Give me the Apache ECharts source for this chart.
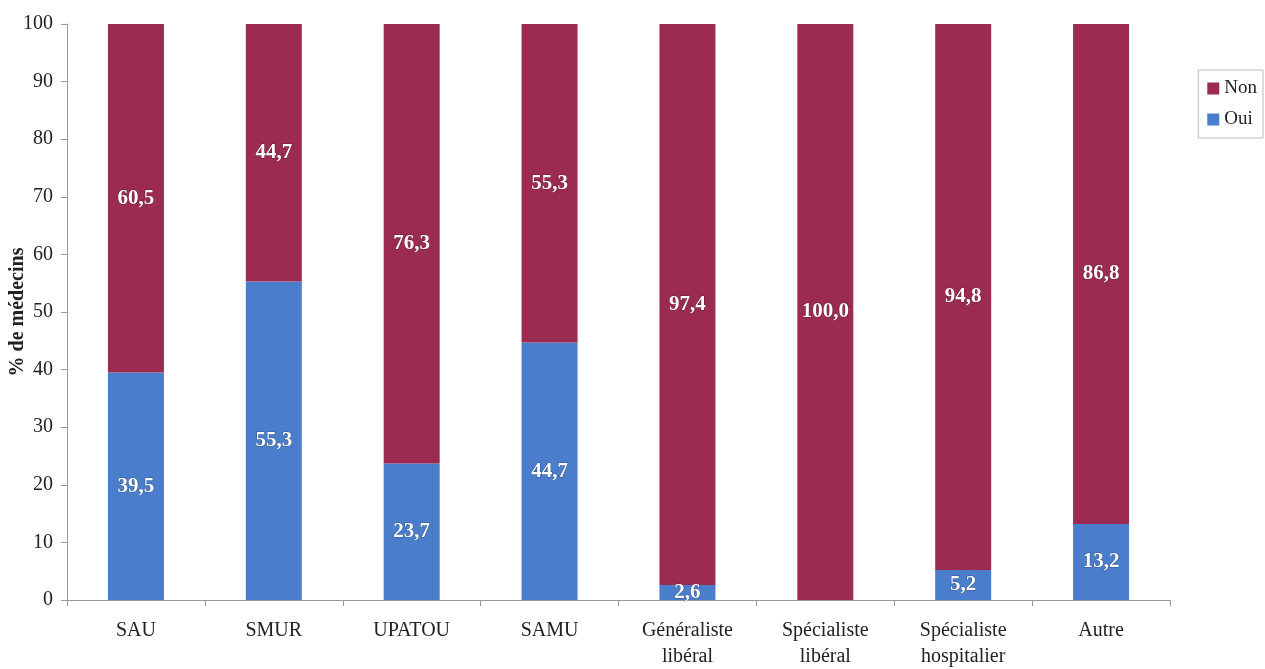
<!DOCTYPE html>
<html><head><meta charset="utf-8">
<script src="https://cdn.jsdelivr.net/npm/echarts@6/dist/echarts.min.js"></script>
<style>html,body{margin:0;padding:0;background:#fff}#c{width:1265px;height:669px}</style>
</head><body><div id="c"></div>
<script>
const categories = ['SAU','SMUR','UPATOU','SAMU','Généraliste\nlibéral','Spécialiste\nlibéral','Spécialiste\nhospitalier','Autre'];
const oui = [39.5, 55.3, 23.7, 44.7, 2.6, 0, 5.2, 13.2];
const non = [60.5, 44.7, 76.3, 55.3, 97.4, 100.0, 94.8, 86.8];
const yTicks = [0,10,20,30,40,50,60,70,80,90,100];

const font = 'Liberation Serif';
const fmt = p => p.value > 0 ? p.value.toFixed(1).replace('.', ',') : '';
const lbl = {show:true, position:'inside', color:'#fff', fontFamily:font, fontWeight:'bold', fontSize:21, formatter:fmt,
  textBorderColor:'rgba(0,0,0,0.35)', textBorderWidth:1};

const chart = echarts.init(document.getElementById('c'));
chart.setOption({
  animation:false,
  grid:{left:67, right:95, top:24, bottom:69, outerBoundsMode:'none', containLabel:false},
  legend:{
    orient:'vertical', right:2, top:70, itemWidth:12, itemHeight:12, itemGap:12, icon:'rect',
    padding:[9,6,9,9], borderColor:'#bbb', borderWidth:1,
    textStyle:{fontFamily:font, fontSize:19, color:'#222'},
    data:['Non','Oui']
  },
  xAxis:{
    type:'category', data:categories,
    axisLine:{lineStyle:{color:'#999'}},
    axisTick:{show:true, alignWithLabel:false, length:6, lineStyle:{color:'#999'}},
    axisLabel:{fontFamily:font, fontSize:20, color:'#222', margin:18, lineHeight:26, interval:0}
  },
  yAxis:{
    type:'value', min:0, max:100, interval:10,
    name:'% de médecins', nameLocation:'middle', nameGap:39, nameMoveOverlap:false,
    nameTextStyle:{fontFamily:font, fontSize:20, fontWeight:'bold', color:'#222'},
    axisLine:{show:true, lineStyle:{color:'#999'}},
    axisTick:{show:true, length:6, lineStyle:{color:'#999'}},
    axisLabel:{fontFamily:font, fontSize:20, color:'#222', margin:14},
    splitLine:{show:false}
  },
  series:[
    {name:'Oui', type:'bar', stack:'a', data:oui, barWidth:56, itemStyle:{color:'#4a7dcb'}, label:lbl},
    {name:'Non', type:'bar', stack:'a', data:non, barWidth:56, itemStyle:{color:'#9c2b52'}, label:lbl}
  ]
});
</script></body></html>
